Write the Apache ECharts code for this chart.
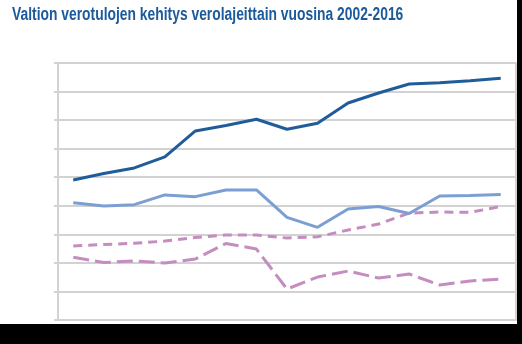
<!DOCTYPE html>
<html>
<head>
<meta charset="utf-8">
<script src="https://cdn.jsdelivr.net/npm/echarts@6/dist/echarts.min.js"></script>
<style>
  html, body { margin: 0; padding: 0; background: #ffffff; }
  #chart { width: 522px; height: 344px; }
</style>
</head>
<body>
<div id="chart"></div>
<script>
// Valtion verotulot verolajeittain, mrd. euroa
const years = ['2002','2003','2004','2005','2006','2007','2008','2009','2010','2011','2012','2013','2014','2015','2016'];
const arvonlisavero = [9.81, 10.26, 10.65, 11.42, 13.24, 13.62, 14.06, 13.36, 13.78, 15.2, 15.9, 16.53, 16.62, 16.76, 16.93];
const tuloverot = [8.22, 7.98, 8.08, 8.76, 8.64, 9.11, 9.11, 7.19, 6.49, 7.77, 7.95, 7.46, 8.69, 8.72, 8.79];
const valmisteverot = [5.18, 5.29, 5.37, 5.53, 5.78, 5.95, 5.95, 5.74, 5.83, 6.30, 6.72, 7.49, 7.56, 7.54, 7.95];
const yhteisovero = [4.39, 4.03, 4.13, 3.99, 4.27, 5.36, 4.97, 2.17, 3.01, 3.43, 2.94, 3.22, 2.45, 2.73, 2.87];
const yMin = 0, yMax = 18, yStep = 2;
const titleText = 'Valtion verotulojen kehitys verolajeittain vuosina 2002-2016';

const gridGrey = '#d2d2d2';
const chart = echarts.init(document.getElementById('chart'), null, { renderer: 'canvas' });

chart.setOption({
  animation: false,
  backgroundColor: '#ffffff',
  graphic: [
    // condensed heading: regular bold face squeezed horizontally
    {
      type: 'text', x: 12, y: 6, scaleX: 0.77, scaleY: 1,
      style: {
        text: titleText,
        font: "bold 18px 'Liberation Sans', Arial, sans-serif",
        fill: '#1b5a9b',
        textVerticalAlign: 'top'
      }
    },
    { type: 'rect', right: 0, top: 0, shape: { width: 5, height: 344 }, style: { fill: '#000' }, z: 100 },
    { type: 'rect', left: 0, bottom: 0, shape: { width: 522, height: 20 }, style: { fill: '#000' }, z: 100 }
  ],
  grid: { left: 58, right: 6, top: 63, bottom: 24, containLabel: false },
  xAxis: {
    type: 'category',
    data: years,
    boundaryGap: true,
    axisLine: { lineStyle: { color: gridGrey, width: 2 } },
    axisTick: { show: false },
    axisLabel: { show: false },
    splitLine: { show: false }
  },
  yAxis: [
    {
      type: 'value', min: yMin, max: yMax, interval: yStep,
      axisLine: { show: true, lineStyle: { color: gridGrey, width: 2 } },
      axisTick: { show: true, length: 4, lineStyle: { color: gridGrey, width: 2 } },
      axisLabel: { show: false },
      splitLine: { show: true, lineStyle: { color: gridGrey, width: 2 } }
    },
    {
      type: 'value', position: 'right', min: yMin, max: yMax, interval: yStep,
      axisLine: { show: true, lineStyle: { color: gridGrey, width: 2 } },
      axisTick: { show: false },
      axisLabel: { show: false },
      splitLine: { show: false }
    }
  ],
  series: [
    {
      name: 'Arvonlisävero', type: 'line', data: arvonlisavero, symbol: 'none',
      lineStyle: { color: '#1f5c99', width: 3 }, z: 5
    },
    {
      name: 'Ansio- ja pääomatuloverot', type: 'line', data: tuloverot, symbol: 'none',
      lineStyle: { color: '#7b9fd2', width: 3 }, z: 4
    },
    {
      name: 'Valmisteverot', type: 'line', data: valmisteverot, symbol: 'none',
      lineStyle: { color: '#c58cc0', width: 3, type: [9, 6] }, z: 3
    },
    {
      name: 'Yhteisövero', type: 'line', data: yhteisovero, symbol: 'none',
      lineStyle: { color: '#c58cc0', width: 3, type: [16, 6] }, z: 3
    }
  ]
});
</script>
</body>
</html>
